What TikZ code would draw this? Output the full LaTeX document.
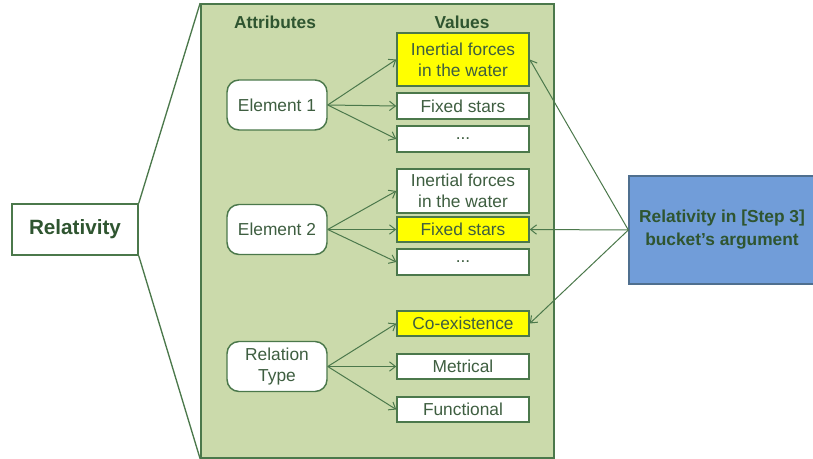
\documentclass[tikz,border=0pt]{standalone}
\usepackage{fontspec}
\setmainfont{Liberation Sans}
\usetikzlibrary{arrows.meta}
\definecolor{panelfill}{HTML}{CBDAAB}
\definecolor{dkgreen}{HTML}{4B784B}
\definecolor{txtgreen}{HTML}{2F5530}
\definecolor{valtxt}{HTML}{3E5E40}
\definecolor{bluefill}{HTML}{719DD9}
\definecolor{blueedge}{HTML}{4F6F8F}
\definecolor{hiyellow}{HTML}{FFFF00}
\tikzset{
  base/.style={font=\fontsize{13}{15.75}\selectfont, align=center, inner sep=0pt, text=valtxt},
  valbox/.style={base, draw=dkgreen, line width=1.1pt, fill=white, minimum width=99pt},
  hibox/.style={valbox, fill=hiyellow},
  attrbox/.style={base, draw=dkgreen, line width=1.1pt, fill=white, rounded corners=9pt, minimum width=75pt, minimum height=37.5pt},
  header/.style={font=\bfseries\fontsize{13}{15.75}\selectfont, text=txtgreen, inner sep=0pt},
  conn/.style={draw=dkgreen, line width=0.75pt, -{Straight Barb[length=4.5pt,width=7pt]}},
  zoomline/.style={draw=dkgreen, line width=1pt},
}
\begin{document}
\begin{tikzpicture}[x=0.75pt,y=-0.75pt]
\useasboundingbox (0,0) rectangle (813,459);
% panel
\node[draw=dkgreen, line width=1.3pt, fill=panelfill, minimum width=264.75pt, minimum height=340.5pt, inner sep=0pt] (panel) at (377.5,231) {};
\node[header] (hattr) at (275,22) {Attributes};
\node[header] (hval) at (462,22) {Values};
% relativity
\node[base, draw=dkgreen, line width=1.1pt, fill=white, minimum width=94.5pt, minimum height=38.25pt, font=\bfseries\fontsize{15.5}{18}\selectfont, text=txtgreen] (rel) at (75,229.5) {Relativity};
\draw[zoomline] (rel.north east) -- (panel.north west);
\draw[zoomline] (rel.south east) -- (panel.south west);
% attributes
\node[attrbox] (e1) at (277,105) {Element 1};
\node[attrbox] (e2) at (277,229.5) {Element 2};
\node[attrbox] (rt) at (277,366.5) {Relation\\Type};
% values
\node[hibox, minimum height=39.75pt] (iw1) at (463,59.5) {Inertial forces\\in the water};
\node[valbox, minimum height=19.5pt] (fs1) at (463,106) {Fixed stars};
\node[valbox, minimum height=19.5pt] (d1) at (463,139) {...};
\node[valbox, minimum height=33pt] (iw2) at (463,191) {Inertial forces\\in the water};
\node[hibox, minimum height=19pt] (fs2) at (463,229.5) {Fixed stars};
\node[valbox, minimum height=19.5pt] (d2) at (463,262) {...};
\node[hibox, minimum height=19pt] (co) at (463,323.5) {Co-existence};
\node[valbox, minimum height=19pt] (me) at (463,366.5) {Metrical};
\node[valbox, minimum height=19pt] (fu) at (463,409.5) {Functional};
% blue box
\node[draw=blueedge, line width=1pt, fill=bluefill, minimum width=139.5pt, minimum height=81pt, inner sep=0pt, align=center, font=\bfseries\fontsize{13}{17.25}\selectfont, text=txtgreen] (step) at (722,230) {Relativity in [Step 3]\\bucket’s argument};
% connectors
\foreach \t in {iw1,fs1,d1} \draw[conn] (e1.east) -- (\t.west);
\foreach \t in {iw2,fs2,d2} \draw[conn] (e2.east) -- (\t.west);
\foreach \t in {co,me,fu} \draw[conn] (rt.east) -- (\t.west);
\foreach \t in {iw1,fs2,co} \draw[conn] (step.west) -- (\t.east);
\end{tikzpicture}
\end{document}
